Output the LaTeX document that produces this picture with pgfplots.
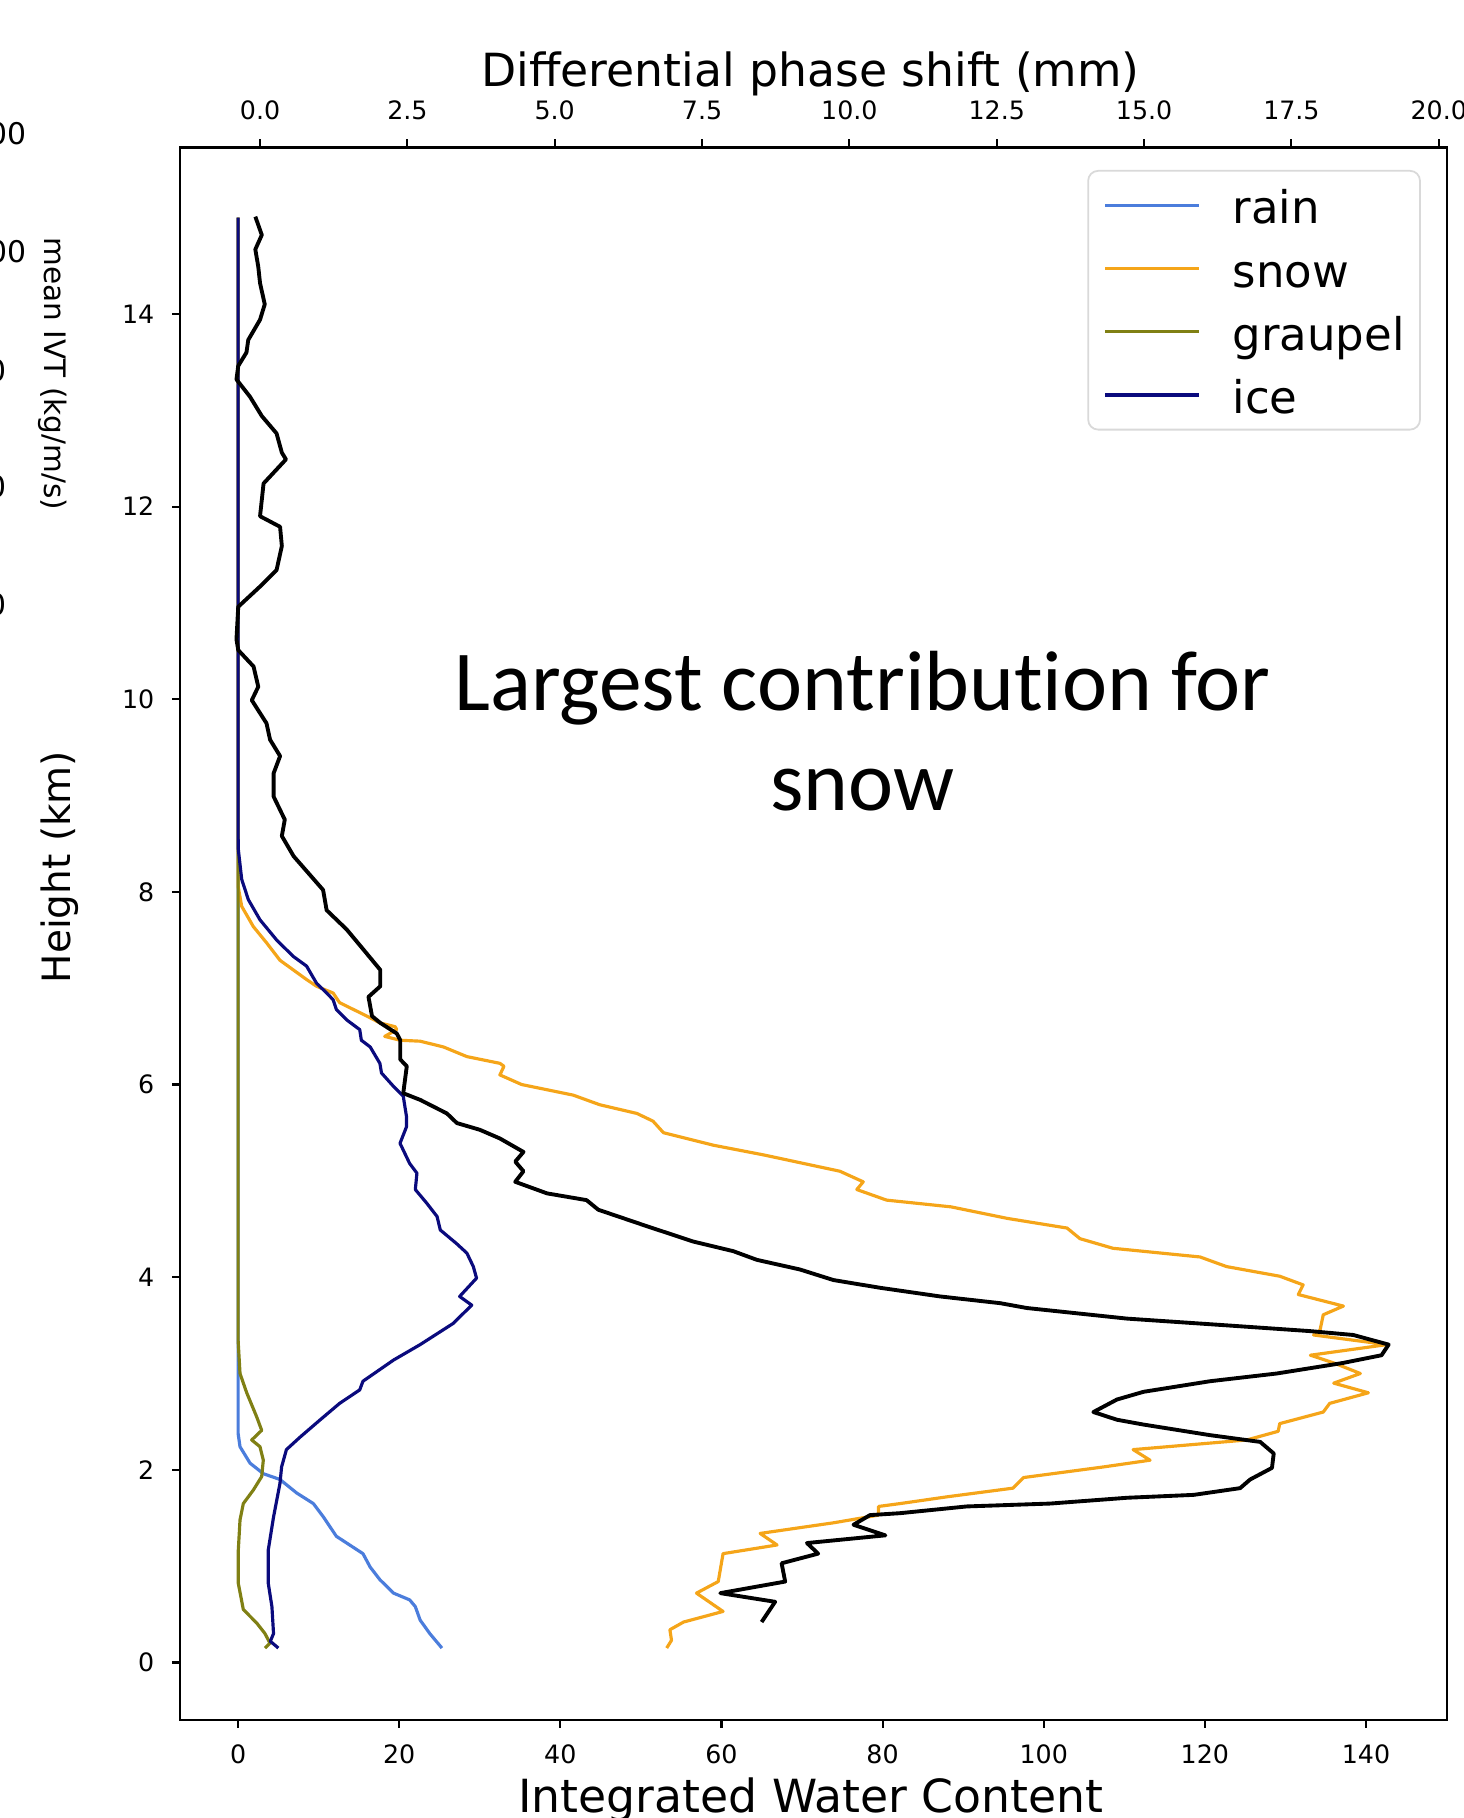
\documentclass[border=0pt]{standalone}
\usepackage{fontspec}
\setmainfont{DejaVu Sans}
\newfontfamily\carlito[Ligatures=NoCommon]{Carlito}
\usepackage{pgfplots}
\pgfplotsset{compat=1.18}

\definecolor{rainc}{RGB}{75,125,220}
\definecolor{snowc}{RGB}{245,165,25}
\definecolor{graupc}{RGB}{128,128,20}
\definecolor{icec}{RGB}{10,10,125}

\pgfplotstableread{
x y
0 15.0
0 3.0
0 2.38
0.24 2.24
1.48 2.07
3.13 1.96
5.2 1.90
7.27 1.76
9.34 1.65
10.6 1.51
12.2 1.31
15.5 1.13
16.4 0.99
17.6 0.86
19.3 0.72
21.3 0.65
22.0 0.58
22.6 0.44
23.8 0.30
25.3 0.15
}\rain

\pgfplotstableread{
x y
0 15.0
0 8.06
0.45 7.85
1.89 7.64
3.55 7.47
5.2 7.29
6.85 7.19
8.5 7.09
9.75 7.02
11.8 6.95
12.6 6.85
14.3 6.78
16.0 6.71
17.6 6.64
19.5 6.60
19.7 6.57
18.2 6.50
20.1 6.46
22.6 6.45
25.5 6.39
28.4 6.29
32.5 6.22
33.0 6.19
32.5 6.10
35.2 6.00
41.6 5.89
44.9 5.79
49.5 5.70
51.5 5.62
52.8 5.50
59.0 5.37
65.2 5.27
74.7 5.10
77.6 4.99
76.8 4.91
80.5 4.80
88.5 4.73
95.5 4.61
102.9 4.51
104.5 4.40
108.6 4.30
119.4 4.21
122.7 4.11
129.3 4.01
132.2 3.92
131.6 3.82
137.2 3.70
134.7 3.61
134.3 3.45
133.5 3.40
142.6 3.30
133.1 3.19
136.0 3.11
139.3 3.00
136.0 2.90
140.3 2.80
135.5 2.69
134.7 2.60
129.3 2.48
129.1 2.40
125.2 2.31
111.1 2.21
113.2 2.10
107.4 2.03
97.5 1.92
96.2 1.81
88.0 1.72
82.2 1.65
79.5 1.62
79.5 1.53
73.9 1.45
64.8 1.34
66.9 1.22
60.2 1.13
59.6 0.84
56.9 0.72
60.2 0.53
55.3 0.42
53.6 0.34
53.8 0.23
53.2 0.15
}\snow

\pgfplotstableread{
x y
0 15.0
0 3.35
0.24 3.0
1.07 2.80
2.31 2.55
2.93 2.41
1.69 2.31
2.72 2.24
3.13 2.10
2.93 1.93
1.89 1.79
0.65 1.65
0.24 1.48
0.03 1.17
0.03 0.82
0.65 0.55
2.31 0.41
3.34 0.30
3.96 0.20
3.34 0.15
}\graupel

\pgfplotstableread{
x y
0 15.0
0 8.6
0.03 8.44
0.45 8.13
1.27 7.92
2.72 7.71
4.79 7.50
6.85 7.33
8.5 7.23
9.75 7.05
11.0 6.95
11.8 6.88
12.2 6.78
13.5 6.67
15.1 6.57
15.3 6.46
16.4 6.39
17.6 6.22
17.8 6.12
19.3 5.98
20.5 5.88
20.9 5.67
20.9 5.56
20.1 5.39
21.3 5.18
22.2 5.08
22.0 4.91
23.4 4.77
24.7 4.63
25.1 4.49
27.1 4.35
28.4 4.25
29.2 4.11
29.6 3.99
27.5 3.80
29.0 3.71
26.7 3.52
22.6 3.30
19.3 3.14
15.5 2.92
15.1 2.83
12.6 2.69
10.2 2.52
7.7 2.34
6.0 2.21
5.4 2.03
5.2 1.86
4.4 1.51
3.75 1.17
3.75 0.82
4.2 0.58
4.4 0.30
4.0 0.22
5.0 0.15
}\ice

\pgfplotstableread{
x y
-0.08 15.01
0.03 14.82
-0.08 14.67
-0.03 14.49
0 14.32
0.08 14.10
0 13.94
-0.2 13.73
-0.23 13.60
-0.37 13.46
-0.40 13.32
-0.17 13.14
0.03 12.94
0.28 12.76
0.37 12.56
0.44 12.49
0.06 12.24
0 11.90
0.34 11.79
0.37 11.59
0.28 11.34
0 11.17
-0.37 10.96
-0.40 10.62
-0.37 10.51
-0.11 10.34
-0.03 10.13
-0.14 9.99
0.11 9.75
0.17 9.58
0.34 9.41
0.23 9.23
0.23 8.99
0.42 8.75
0.37 8.58
0.57 8.37
1.07 8.02
1.13 7.81
1.47 7.61
1.81 7.36
2.04 7.19
2.04 7.02
1.84 6.91
1.90 6.71
2.04 6.64
2.32 6.53
2.38 6.46
2.38 6.26
2.49 6.19
2.43 5.91
2.72 5.84
3.17 5.70
3.34 5.60
3.73 5.53
4.07 5.44
4.47 5.30
4.33 5.20
4.47 5.10
4.33 4.99
4.87 4.87
5.54 4.80
5.74 4.70
6.56 4.53
7.35 4.37
8.03 4.27
8.43 4.18
9.16 4.08
9.73 3.97
10.52 3.89
11.54 3.80
12.56 3.73
13.01 3.68
14.71 3.57
16.40 3.50
17.82 3.44
18.55 3.40
19.15 3.30
19.03 3.19
18.38 3.11
17.25 3.00
16.12 2.92
14.99 2.81
14.54 2.73
14.14 2.60
14.54 2.52
14.99 2.47
16.12 2.36
16.97 2.29
17.20 2.17
17.17 2.02
16.80 1.90
16.63 1.81
15.84 1.74
14.71 1.71
13.41 1.65
11.99 1.62
10.86 1.55
10.35 1.53
10.07 1.43
10.61 1.32
9.28 1.24
9.47 1.13
8.85 1.03
8.91 0.84
7.81 0.72
8.74 0.63
8.51 0.42
}\phase

\begin{document}
\begin{tikzpicture}
\pgfplotsset{
  commonax/.style={
    scale only axis, width=126.7mm, height=157.27mm,
    at={(18.0mm,9.8mm)}, anchor=south west,
    ymin=-0.597, ymax=15.73,
    tick align=outside, major tick length=0.8mm,
    every tick/.style={black, line width=0.6pt},
    /pgf/number format/assume math mode=true,
    tick label style={font=\fontsize{7.2}{8}\selectfont, inner sep=0pt},
  }
}
\begin{axis}[commonax,
  xmin=-7.21, xmax=150.06,
  xtick={0,20,...,140}, ytick={0,2,...,14},
  tick pos=left,
  axis line style={line width=0.7pt},
  xticklabel style={anchor=north, yshift=-1.6mm},
  yticklabel style={anchor=east, xshift=-1.7mm},
  legend cell align=left,
  legend style={at={(0.7161,0.9856)}, anchor=north west,
    draw=black!15, line width=0.5pt, rounded corners=1mm, fill=white,
    font=\fontsize{12.8}{15}\selectfont,
    inner xsep=1.54mm, inner ysep=1.3mm,
    row sep=2.0mm, column sep=3.2mm,
    nodes={inner sep=0pt, text height=4.0mm, text depth=0.32mm}},
  legend image code/.code={\draw[#1] (0mm,0mm) -- (9.4mm,0mm);},
]
\addplot[rainc, line width=0.9pt, line join=round] table {\rain};
\addlegendentry{rain}
\addplot[snowc, line width=0.9pt, line join=round] table {\snow};
\addlegendentry{snow}
\addplot[graupc, line width=0.9pt, line join=round] table {\graupel};
\addlegendentry{graupel}
\addplot[icec, line width=0.9pt, line join=round] table {\ice};
\addlegendentry{ice}
\end{axis}
\begin{axis}[commonax,
  xmin=-1.358, xmax=20.14,
  axis x line*=top, axis y line=none,
  axis line style={line width=0.7pt},
  xtick={0,2.5,...,20},
  xticklabels={0.0,2.5,5.0,7.5,10.0,12.5,15.0,17.5,20.0},
  xticklabel style={anchor=south, yshift=1.9mm},
]
\addplot[black, line width=1.1pt, line join=round] table {\phase};
\end{axis}

\node[font=\fontsize{13}{15}\selectfont, anchor=base, inner sep=0pt] at (81.1mm,0.52mm) {Integrated Water Content};
\node[font=\fontsize{13}{15}\selectfont, anchor=base, inner sep=0pt] at (81.05mm,173.1mm) {Differential phase shift (mm)};
\node[font=\fontsize{11.1}{13}\selectfont, rotate=90, inner sep=0pt] at (6.0mm,95.1mm) {Height (km)};
\node[font=\fontsize{8.4}{10}\selectfont, rotate=-90, inner sep=0pt] at (5.3mm,144.4mm) {mean IVT (kg/m/s)};
\node[font=\fontsize{8.5}{10}\selectfont, anchor=east, inner sep=0pt] at (2.75mm,168.4mm) {00};
\node[font=\fontsize{8.5}{10}\selectfont, anchor=east, inner sep=0pt] at (2.75mm,156.6mm) {00};
\node[font=\fontsize{8.5}{10}\selectfont, anchor=east, inner sep=0pt] at (0.75mm,144.75mm) {0};
\node[font=\fontsize{8.5}{10}\selectfont, anchor=east, inner sep=0pt] at (0.75mm,133.14mm) {0};
\node[font=\fontsize{8.5}{10}\selectfont, anchor=east, inner sep=0pt] at (0.75mm,121.3mm) {0};
\node[font=\carlito\fontsize{24.3}{29}\selectfont, anchor=base, inner sep=0pt] at (86.25mm,110.74mm) {Largest contribution for};
\node[font=\carlito\fontsize{24.3}{29}\selectfont, anchor=base, inner sep=0pt] at (86.25mm,100.7mm) {snow};

\pgfresetboundingbox
\path[use as bounding box] (0,0) rectangle (146.4mm,181.8mm);
\end{tikzpicture}
\end{document}
